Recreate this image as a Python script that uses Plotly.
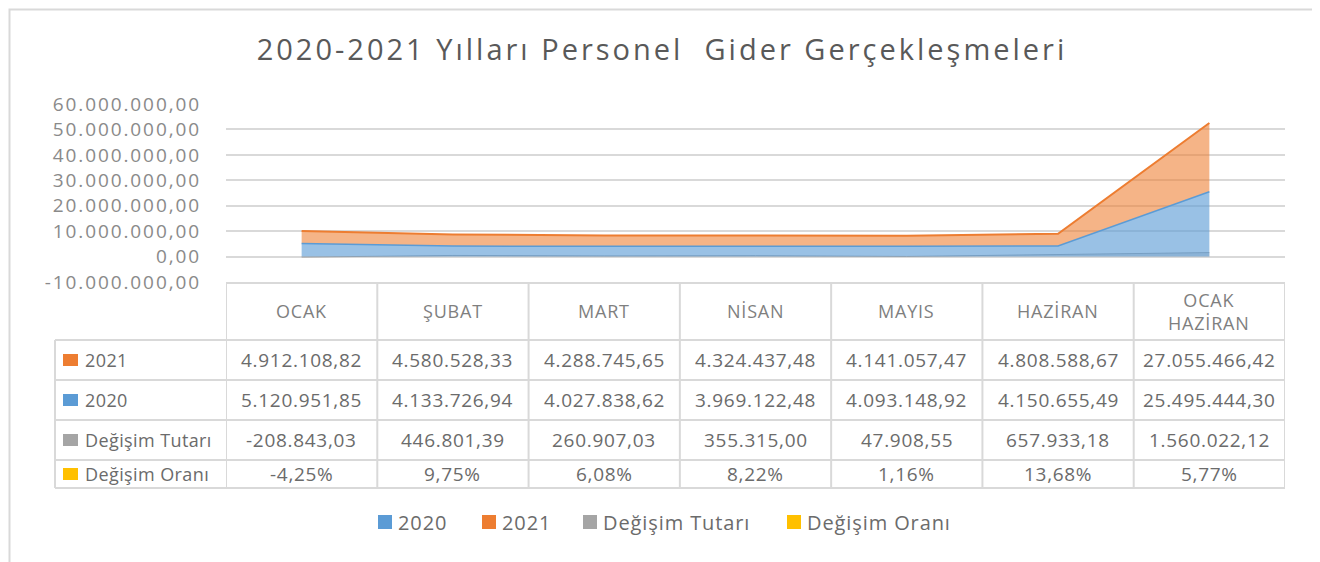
import plotly.graph_objects as go

# data
months = ["OCAK", "ŞUBAT", "MART", "NİSAN", "MAYIS", "HAZİRAN", "OCAK<br>HAZİRAN"]
y2020 = [5120951.85, 4133726.94, 4027838.62, 3969122.48, 4093148.92, 4150655.49, 25495444.30]
y2021 = [4912108.82, 4580528.33, 4288745.65, 4324437.48, 4141057.47, 4808588.67, 27055466.42]
change_amt = [-208843.03, 446801.39, 260907.03, 355315.00, 47908.55, 657933.18, 1560022.12]
change_pct = [-4.25, 9.75, 6.08, 8.22, 1.16, 13.68, 5.77]
tick_vals = [-10e6, 0, 10e6, 20e6, 30e6, 40e6, 50e6, 60e6]
tick_text = ["-10.000.000,00", "0,00", "10.000.000,00", "20.000.000,00", "30.000.000,00",
             "40.000.000,00", "50.000.000,00", "60.000.000,00"]

C_BLUE, C_ORANGE, C_GREY, C_YELLOW = "#5b9bd5", "#ed7d31", "#a5a5a5", "#ffc000"
FONT = "Open Sans"
TXT = "#6b6b6b"
GRID = "#d9d9d9"

# page has an 8px body margin, so the figure is drawn 8px smaller and everything
# below is measured in page pixels of the reference
OFF = 8
W, H = 1320 - OFF, 562 - OFF
L, R, T, B = 226, 1285, 104, 282


def tr(v):
    s = f"{abs(v):,.2f}".replace(",", "X").replace(".", ",").replace("X", ".")
    return ("-" if v < 0 else "") + s


def ls(text, sp):
    return f"<span style='letter-spacing:{sp}px'>{text}</span>"


def px(x):
    return (x - L) / (R - L)


def py(y):
    return (B - y) / (B - T)


xi = list(range(len(months)))
fig = go.Figure()
series = [
    ("2020", y2020, C_BLUE),
    ("2021", y2021, C_ORANGE),
    ("Değişim Tutarı", change_amt, C_GREY),
    ("Değişim Oranı", [p / 100 for p in change_pct], C_YELLOW),
]
# small series sit behind the stacked yearly areas
fig.add_trace(go.Scatter(x=xi, y=change_amt, mode="lines", fill="tozeroy",
                         line=dict(color=C_GREY, width=1), fillcolor="rgba(165,165,165,0.4)",
                         showlegend=False))
fig.add_trace(go.Scatter(x=xi, y=[p / 100 for p in change_pct], mode="lines", fill="tozeroy",
                         line=dict(color=C_YELLOW, width=0), showlegend=False))
fig.add_trace(go.Scatter(x=xi, y=y2020, mode="lines", stackgroup="one",
                         line=dict(color=C_BLUE, width=1.5), fillcolor="rgba(91,155,213,0.62)",
                         showlegend=False))
fig.add_trace(go.Scatter(x=xi, y=y2021, mode="lines", stackgroup="one",
                         line=dict(color=C_ORANGE, width=2), fillcolor="rgba(237,125,49,0.58)",
                         showlegend=False))

fig.update_xaxes(range=[-0.5, len(months) - 0.5], showticklabels=False, showgrid=False,
                 zeroline=False, fixedrange=True)
fig.update_yaxes(range=[-10e6, 60e6], tickvals=tick_vals, ticktext=[ls(t, 1.9) for t in tick_text],
                 showgrid=True, gridcolor=GRID, gridwidth=1.5, zeroline=False,
                 tickfont=dict(family=FONT, size=19, color="#8a8a8a"), ticklabelstandoff=24)

shapes = []
line = dict(color=GRID, width=2)
row_y = [283, 340, 380, 420, 460, 488]
shapes.append(dict(type="line", xref="paper", yref="paper", x0=0, x1=1, y0=py(283), y1=py(283), line=line))
for y in row_y[1:]:
    shapes.append(dict(type="line", xref="paper", yref="paper", x0=px(55), x1=1, y0=py(y), y1=py(y), line=line))
for i in range(len(months) + 1):
    shapes.append(dict(type="line", xref="x", yref="paper", x0=i - 0.5, x1=i - 0.5,
                       y0=py(283), y1=py(488), line=line))
shapes.append(dict(type="line", xref="paper", yref="paper", x0=px(55), x1=px(55),
                   y0=py(340), y1=py(488), line=line))
# outer frame (as close to the page edge as the body margin allows)
shapes.append(dict(type="rect", xref="paper", yref="paper", x0=px(9.5), x1=px(1317),
                   y0=py(575), y1=py(9.5), line=dict(color="#d9d9d9", width=2)))

ann = []
for i, m in enumerate(months):
    ann.append(dict(x=i, y=py(311), xref="x", yref="paper",
                    text="<br>".join(ls(p, 0.8) for p in m.split("<br>")),
                    showarrow=False, xanchor="center", yanchor="middle",
                    font=dict(family=FONT, size=18, color="#7f7f7f")))

rows = [
    ("2021", C_ORANGE, [tr(v) for v in y2021]),
    ("2020", C_BLUE, [tr(v) for v in y2020]),
    ("Değişim Tutarı", C_GREY, [tr(v) for v in change_amt]),
    ("Değişim Oranı", C_YELLOW, [tr(v) + "%" for v in change_pct]),
]
centers = [360, 400, 440, 474]
for (label, col, cells), cy in zip(rows, centers):
    shapes.append(dict(type="rect", xref="paper", yref="paper", x0=px(63), x1=px(78),
                       y0=py(cy + 6), y1=py(cy - 6), line=dict(width=0), fillcolor=col))
    ann.append(dict(x=px(83), y=py(cy), xref="paper", yref="paper", xanchor="left",
                    yanchor="middle", text=ls(label, 0.4), showarrow=False,
                    font=dict(family=FONT, size=18, color=TXT)))
    for i, c in enumerate(cells):
        ann.append(dict(x=i, y=py(cy), xref="x", yref="paper", xanchor="center",
                        yanchor="middle", text=ls(c, 0.7), showarrow=False,
                        font=dict(family=FONT, size=19, color=TXT)))

# legend
legend_x = [378, 482, 583, 787]
for (name, _, col), lx in zip(series, legend_x):
    shapes.append(dict(type="rect", xref="paper", yref="paper", x0=px(lx), x1=px(lx + 14),
                       y0=py(529), y1=py(515), line=dict(width=0), fillcolor=col))
    ann.append(dict(x=px(lx + 18), y=py(522), xref="paper", yref="paper", xanchor="left",
                    yanchor="middle", text=ls(name, 0.9), showarrow=False,
                    font=dict(family=FONT, size=20, color=TXT)))

fig.update_layout(
    width=W, height=H,
    margin=dict(l=L - OFF, r=W - (R - OFF), t=T - OFF, b=H - (B - OFF)),
    paper_bgcolor="white", plot_bgcolor="white",
    title=dict(text=ls("2020-2021 Yılları Personel  Gider Gerçekleşmeleri", 3),
               x=(662 - OFF) / W, xref="container", xanchor="center",
               y=1 - (50 - OFF) / H, yref="container", yanchor="middle",
               font=dict(family=FONT, size=29, color="#595959")),
    shapes=shapes, annotations=ann, showlegend=False,
)

fig.write_html("out.html")
